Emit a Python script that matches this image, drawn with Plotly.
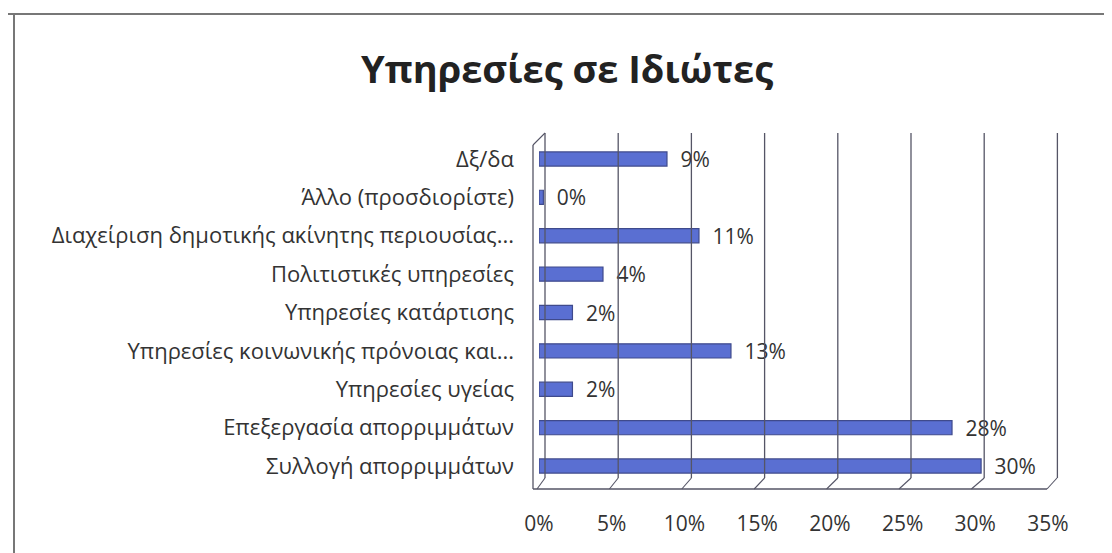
import plotly.graph_objects as go

# Data (top-to-bottom reading order as shown in the chart)
categories = [
    "Δξ/δα",
    "Άλλο (προσδιορίστε)",
    "Διαχείριση δημοτικής ακίνητης περιουσίας...",
    "Πολιτιστικές υπηρεσίες",
    "Υπηρεσίες κατάρτισης",
    "Υπηρεσίες κοινωνικής πρόνοιας και...",
    "Υπηρεσίες υγείας",
    "Επεξεργασία απορριμμάτων",
    "Συλλογή απορριμμάτων",
]
values = [0.088, 0.003, 0.110, 0.044, 0.023, 0.132, 0.023, 0.284, 0.304]
x_ticks = [0, 0.05, 0.10, 0.15, 0.20, 0.25, 0.30, 0.35]
x_tick_labels = ["0%", "5%", "10%", "15%", "20%", "25%", "30%", "35%"]
title_text = "Υπηρεσίες σε Ιδιώτες"

FONT = "Open Sans"
OFF = 8  # page body margin: figure starts 8px into the window
W, H = 1112 - OFF, 553 - OFF
# plot area in window pixel coords
PL, PR, PT, PB = 539, 1048, 133, 490
ML, MR, MT, MB = PL - OFF, W - (PR - OFF), PT - OFF, H - (PB - OFF)
XMAX = 0.35

fig = go.Figure()
fig.add_trace(go.Bar(
    x=values[::-1],
    y=categories[::-1],
    orientation="h",
    width=0.37,
    marker=dict(color="#5a6fd2", line=dict(color="#3f4a8c", width=1.2)),
    text=["\u2002" + f"{round(v*100):d}%" for v in values[::-1]],
    textposition="outside",
    constraintext="none",
    textfont=dict(family=FONT, size=21, color="#333333"),
    cliponaxis=False,
))

# 3D-like frame (decorative) in paper coords, specified in window pixels
pw = PR - PL
ph = PB - PT
def px2x(px):
    return (px - PL) / pw
def py2y(py):
    return (PB - py) / ph

shapes = []
line_c = "#555566"
back_top = py2y(133)
back_floor = py2y(478)
front_floor = py2y(489)
for k in range(len(x_ticks)):
    bx = px2x(545 + k * 73.2)
    fx = px2x(537 + k * 72.4)
    shapes.append(dict(type="line", xref="paper", yref="paper", x0=bx, x1=bx,
                       y0=back_floor, y1=back_top, line=dict(color=line_c, width=1.3)))
    if k < len(x_ticks) - 1:
        shapes.append(dict(type="line", xref="paper", yref="paper", x0=bx, x1=fx,
                           y0=back_floor, y1=front_floor, line=dict(color=line_c, width=1.1)))
shapes.append(dict(type="line", xref="paper", yref="paper", x0=px2x(533), x1=px2x(1047),
                   y0=front_floor, y1=front_floor, line=dict(color=line_c, width=1.3)))
shapes.append(dict(type="line", xref="paper", yref="paper", x0=px2x(1047), x1=px2x(1057),
                   y0=front_floor, y1=back_floor, line=dict(color=line_c, width=1.1)))
shapes.append(dict(type="line", xref="paper", yref="paper", x0=px2x(533), x1=px2x(533),
                   y0=front_floor, y1=py2y(145), line=dict(color=line_c, width=1.3)))
shapes.append(dict(type="line", xref="paper", yref="paper", x0=px2x(533), x1=px2x(545),
                   y0=py2y(145), y1=back_top, line=dict(color=line_c, width=1.1)))
# outer photo frame (top and left)
shapes.append(dict(type="line", xref="paper", yref="paper", x0=px2x(6), x1=px2x(1112),
                   y0=py2y(14), y1=py2y(14), line=dict(color="#777777", width=2)))
shapes.append(dict(type="line", xref="paper", yref="paper", x0=px2x(14), x1=px2x(14),
                   y0=py2y(14), y1=py2y(553), line=dict(color="#777777", width=2)))

fig.update_layout(
    width=W, height=H,
    margin=dict(l=ML, r=MR, t=MT, b=MB, autoexpand=False),
    paper_bgcolor="white", plot_bgcolor="rgba(0,0,0,0)",
    title=dict(text=f"<b>{title_text}</b>", xref="container", x=(567 - OFF) / W, xanchor="center",
               yref="container", y=1 - (70 - OFF) / H, yanchor="middle",
               font=dict(family=FONT, size=38, color="#222222")),
    showlegend=False,
    shapes=shapes,
)
fig.update_xaxes(
    range=[0, XMAX], tickvals=x_ticks, ticktext=x_tick_labels,
    showgrid=False, zeroline=False, showline=False, ticks="",
    tickfont=dict(family=FONT, size=21, color="#333333"),
    ticklabelstandoff=19, automargin=False,
)
fig.update_yaxes(
    type="category", categoryorder="array", categoryarray=categories[::-1],
    range=[-0.625, 8.677],
    showgrid=False, zeroline=False, showline=False, ticks="",
    tickfont=dict(family=FONT, size=22, color="#333333"),
    ticklabelstandoff=24, automargin=False,
)

fig.write_html("out.html")
